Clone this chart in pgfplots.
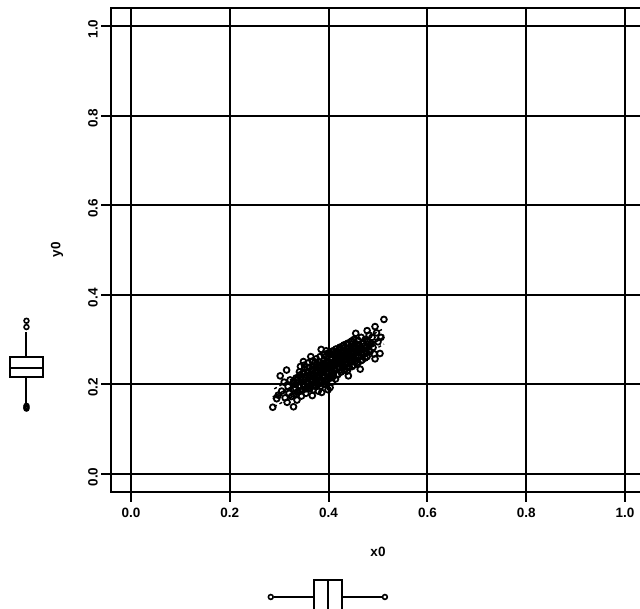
\documentclass[border=0pt]{standalone}
\usepackage{fontspec}
\setmainfont{Liberation Sans}
\usepackage{pgfplots}
\usepackage{pgfplotstable}
\pgfplotsset{compat=1.18}
\usepgfplotslibrary{statistics}

% Sample: x0 against y0
\pgfplotstableread{
x y
0.287 0.149
0.302 0.219
0.315 0.232
0.298 0.176
0.305 0.185
0.312 0.170
0.318 0.195
0.310 0.205
0.295 0.168
0.320 0.180
0.325 0.173
0.329 0.150
0.322 0.210
0.316 0.160
0.330 0.190
0.333 0.200
0.335 0.178
0.338 0.215
0.340 0.195
0.342 0.185
0.345 0.174
0.345 0.205
0.348 0.225
0.349 0.251
0.350 0.198
0.336 0.165
0.341 0.228
0.347 0.188
0.352 0.210
0.354 0.180
0.355 0.220
0.351 0.235
0.357 0.195
0.358 0.205
0.360 0.215
0.362 0.190
0.364 0.262
0.365 0.200
0.366 0.230
0.368 0.210
0.369 0.188
0.370 0.240
0.371 0.220
0.372 0.205
0.374 0.225
0.375 0.195
0.376 0.245
0.377 0.215
0.378 0.232
0.379 0.200
0.380 0.250
0.381 0.222
0.382 0.210
0.383 0.238
0.384 0.196
0.385 0.278
0.386 0.182
0.387 0.228
0.388 0.245
0.389 0.214
0.361 0.238
0.367 0.175
0.373 0.250
0.379 0.185
0.390 0.235
0.391 0.255
0.392 0.220
0.393 0.205
0.394 0.242
0.395 0.262
0.396 0.228
0.397 0.248
0.398 0.212
0.399 0.236
0.400 0.268
0.401 0.225
0.402 0.245
0.403 0.193
0.404 0.255
0.405 0.232
0.406 0.215
0.407 0.260
0.408 0.240
0.409 0.222
0.410 0.275
0.391 0.200
0.395 0.275
0.399 0.188
0.403 0.270
0.407 0.205
0.411 0.250
0.412 0.230
0.413 0.262
0.414 0.212
0.415 0.245
0.416 0.270
0.417 0.235
0.418 0.255
0.419 0.222
0.420 0.265
0.421 0.248
0.422 0.280
0.423 0.238
0.424 0.258
0.425 0.228
0.426 0.270
0.427 0.250
0.428 0.285
0.429 0.240
0.430 0.262
0.431 0.232
0.432 0.275
0.433 0.255
0.434 0.245
0.435 0.268
0.436 0.290
0.437 0.250
0.438 0.230
0.439 0.272
0.440 0.219
0.441 0.258
0.442 0.282
0.443 0.248
0.444 0.265
0.445 0.295
0.446 0.255
0.447 0.275
0.448 0.240
0.449 0.285
0.450 0.262
0.451 0.300
0.452 0.270
0.453 0.250
0.454 0.280
0.455 0.314
0.456 0.265
0.457 0.290
0.458 0.245
0.459 0.275
0.460 0.298
0.461 0.260
0.462 0.285
0.464 0.234
0.465 0.270
0.466 0.305
0.467 0.280
0.468 0.255
0.470 0.292
0.472 0.268
0.474 0.300
0.476 0.282
0.478 0.262
0.480 0.295
0.482 0.310
0.484 0.273
0.486 0.290
0.488 0.305
0.490 0.282
0.492 0.268
0.494 0.257
0.494 0.329
0.497 0.315
0.500 0.295
0.504 0.269
0.512 0.345
0.506 0.305
0.478 0.320
0.330 0.178
0.333 0.192
0.328 0.203
0.334 0.214
0.338 0.183
0.341 0.197
0.336 0.209
0.342 0.221
0.346 0.186
0.349 0.199
0.344 0.214
0.350 0.226
0.343 0.240
0.354 0.190
0.357 0.203
0.352 0.217
0.358 0.229
0.351 0.243
0.362 0.193
0.365 0.207
0.360 0.221
0.366 0.234
0.359 0.248
0.370 0.197
0.373 0.212
0.368 0.224
0.374 0.238
0.367 0.252
0.378 0.201
0.381 0.216
0.376 0.230
0.382 0.243
0.375 0.257
0.386 0.205
0.389 0.220
0.384 0.233
0.390 0.247
0.383 0.262
0.394 0.209
0.397 0.224
0.392 0.238
0.398 0.252
0.391 0.266
0.402 0.214
0.405 0.228
0.400 0.242
0.406 0.256
0.399 0.270
0.410 0.218
0.413 0.233
0.408 0.247
0.414 0.260
0.407 0.274
0.418 0.223
0.421 0.237
0.416 0.251
0.422 0.265
0.415 0.279
0.426 0.228
0.429 0.242
0.424 0.256
0.430 0.270
0.423 0.283
0.434 0.233
0.437 0.246
0.432 0.261
0.438 0.274
0.431 0.288
0.442 0.238
0.445 0.251
0.440 0.266
0.446 0.279
0.439 0.292
0.450 0.243
0.453 0.256
0.448 0.270
0.454 0.284
0.447 0.297
0.458 0.249
0.461 0.261
0.456 0.275
0.462 0.288
0.466 0.253
0.469 0.266
0.464 0.280
0.470 0.293
0.474 0.259
0.477 0.271
0.472 0.285
0.478 0.297
0.482 0.276
0.485 0.290
}\sample

\begin{document}
\begin{tikzpicture}[x=1pt,y=1pt]
\begin{axis}[
  at={(111.2pt,117.1pt)}, anchor=south west,
  scale only axis, width=533.6pt, height=483.8pt,
  xmin=-0.04, xmax=1.04, ymin=-0.04, ymax=1.04,
  xtick={0,0.2,0.4,0.6,0.8,1}, ytick={0,0.2,0.4,0.6,0.8,1},
  grid=major,
  major grid style={black, line width=2pt},
  axis line style={line width=2pt},
  tick pos=left, tick align=outside,
  major tick length=10pt,
  every tick/.style={black, line width=2pt},
  tick label style={font=\fontsize{13.5}{15}\selectfont\bfseries},
  xticklabel style={yshift=-3pt},
  yticklabel style={rotate=90, anchor=south, xshift=-3pt},
  /pgf/number format/.cd, fixed, fixed zerofill, precision=1, assume math mode=true,
  /pgfplots/.cd,
  xlabel={x0}, ylabel={y0},
  label style={font=\fontsize{13.5}{15}\selectfont\bfseries},
  xlabel style={at={(axis description cs:0.5,-0.124)}, anchor=center},
  ylabel style={at={(axis description cs:-0.1016,0.5)}, anchor=center},
  clip=false,
]
% points
\addplot[only marks, mark=o, mark size=2.9pt, line width=1.8pt, black]
  table[x=x, y=y] {\sample};
% least-squares line
\addplot[black, line width=1.6pt] coordinates {(0.287,0.172) (0.512,0.305)};
% smooth and spread
\addplot[black, line width=1.6pt, dashed] coordinates
  {(0.287,0.168) (0.35,0.205) (0.40,0.238) (0.45,0.268) (0.512,0.310)};
\addplot[black, line width=1.4pt, dashed] coordinates
  {(0.29,0.190) (0.40,0.258) (0.512,0.325)};
\addplot[black, line width=1.4pt, dashed] coordinates
  {(0.29,0.150) (0.40,0.218) (0.512,0.290)};

% marginal box plot of x0 (below the axis)
\addplot[black, line width=2pt, boxplot/draw direction=x,
  boxplot/whisker extend=0,
  boxplot prepared={lower whisker=0.289, lower quartile=0.370,
    median=0.399, upper quartile=0.427, upper whisker=0.508,
    draw position=-0.2746, box extend=0.0759}] coordinates {};
\addplot[only marks, mark=o, mark size=2.4pt, line width=1.6pt, black]
  coordinates {(0.283,-0.2746) (0.514,-0.2746)};

% marginal box plot of y0 (left of the axis)
\addplot[black, line width=2pt, boxplot/draw direction=y,
  boxplot/whisker extend=0,
  boxplot prepared={lower whisker=0.156, lower quartile=0.2165,
    median=0.2366, upper quartile=0.261, upper whisker=0.318,
    draw position=-0.2115, box extend=0.0668}] coordinates {};
\addplot[only marks, mark=o, mark size=2.4pt, line width=1.6pt, black]
  coordinates {(-0.2115,0.146) (-0.2115,0.149) (-0.2115,0.152)
               (-0.2115,0.328) (-0.2115,0.342)};
\end{axis}
\pgfresetboundingbox
\path[use as bounding box] (0,0) rectangle (640,609);
\end{tikzpicture}
\end{document}
